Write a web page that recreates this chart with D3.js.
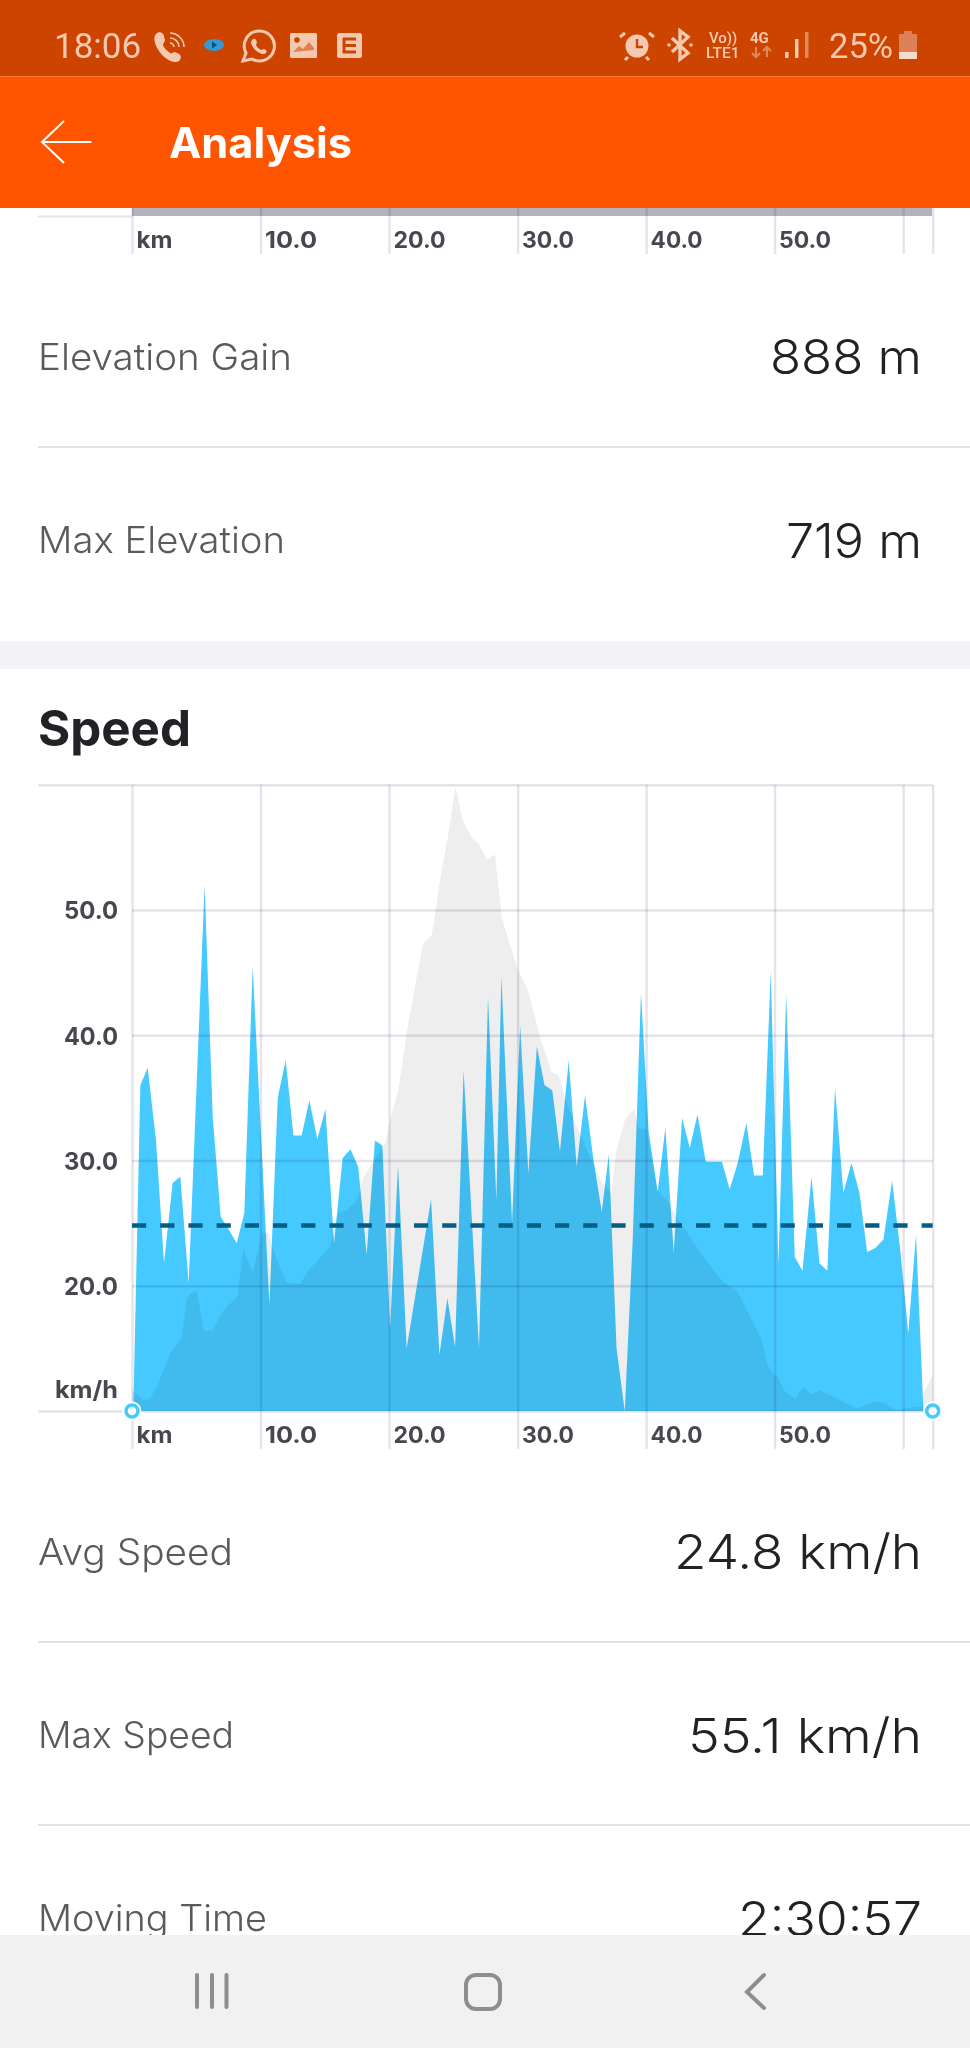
<!DOCTYPE html>
<html>
<head>
<meta charset="utf-8">
<script src="https://cdn.jsdelivr.net/npm/d3@7"></script>
<style>
  html, body { margin: 0; padding: 0; background: #fff; }
  svg { display: block; }
  text { font-family: Inter, sans-serif; }
</style>
</head>
<body>
<div id="chart"></div>
<script>
// speed series
var speedKm = [0.1, 0.65, 1.22, 1.87, 2.49, 3.16, 3.76, 4.41, 5.65, 6.28, 6.9, 7.4, 8.15, 8.74, 9.39, 10.69,
  11.34, 11.96, 12.56, 13.2, 13.8, 14.42, 15.05, 15.72, 16.39, 17.0, 17.6, 18.26, 18.9, 19.48, 20.08, 20.7,
  21.37, 23.27, 23.92, 24.54, 25.14, 25.8, 27.0, 27.7, 28.35, 28.74, 29.57, 30.2, 30.84, 31.5, 32.1, 32.7,
  33.3, 33.98, 34.6, 35.25, 35.9, 36.55, 37.1, 37.7, 38.34, 38.96, 39.6, 40.2, 40.9, 41.5, 42.15, 42.8,
  43.4, 44.0, 44.64, 45.9, 46.5, 47.13, 47.8, 48.4, 49.08, 49.7, 50.3, 50.9, 51.57, 52.17, 52.87, 53.49,
  54.1, 54.7, 55.35, 55.98, 56.6, 57.2, 57.8, 58.47, 59.14, 59.77, 60.4, 61.0, 61.58];
var speedVal = [10, 36.0, 37.4, 31.6, 21.8, 28.2, 28.7, 20.2, 52.0, 33.5, 25.5, 24.7, 23.4, 25.8, 45.5, 18.5,
  35.0, 38.0, 32.0, 32.0, 34.8, 31.7, 34.1, 23.4, 30.2, 30.9, 29.5, 22.5, 31.6, 31.2, 16.6, 29.6,
  15.0, 26.9, 14.5, 19.0, 15.1, 37.2, 15.0, 43.1, 26.8, 44.7, 25.0, 40.8, 29.0, 39.1, 36.0, 35.6,
  30.7, 38.0, 29.5, 35.2, 30.1, 25.9, 30.5, 15.0, 10.0, 23.7, 43.4, 32.3, 27.5, 32.6, 22.7, 33.4,
  31.0, 33.7, 29.9, 29.9, 27.7, 29.8, 33.0, 28.8, 28.8, 45.1, 21.7, 43.3, 22.3, 21.2, 28.7, 21.8,
  21.2, 35.8, 27.4, 29.8, 27.4, 22.7, 23.0, 23.7, 28.4, 22.9, 16.2, 24.1, 10];

// elevation shown behind the speed, in metres above the chart floor
var elevKm = [0, 0.88, 1.4, 2.05, 2.96, 3.87, 4.25, 4.5, 5.03, 5.6, 6.28, 6.85, 7.37, 8.2, 8.66, 9.39, 10.1, 10.6,
  11.26, 12.04, 13.07, 13.85, 15.0, 15.4, 16.05, 16.7, 17.5, 18.0, 18.5, 19.7, 20.08, 20.73, 21.37, 22.15, 22.67,
  23.32, 23.97, 24.62, 25.16, 25.73, 26.43, 26.95, 27.65, 28.25, 28.77, 29.94, 30.84, 31.75, 32.66, 33.2, 33.83,
  34.74, 35.64, 36.5, 37.3, 37.46, 37.7, 38.36, 39.07, 39.4, 40.05, 40.3, 40.9, 41.6, 42.4, 43.16, 44.46, 46.0,
  47.05, 48.1, 49.0, 49.4, 49.9, 50.17, 50.8, 51.6, 52.2, 52.9, 53.5, 54.6, 55.3, 56.4, 57.7, 58.6, 59.5, 60.8,
  61.45, 61.7, 62.3];
var elevVal = [24, 12, 14, 32, 66, 84, 128, 135, 139, 92, 93, 110, 120, 131, 187, 159, 205, 205,
  174, 148, 146, 164, 182, 189, 228, 231, 243, 268, 281, 308, 335, 369, 435, 499, 538,
  547, 611, 664, 718, 680, 659, 653, 634, 640, 567, 511, 482, 430, 390, 386, 354,
  323, 292, 265, 250, 273, 300, 335, 348, 325, 325, 300, 254, 243, 223, 206, 177, 148,
  139, 108, 82, 55, 41, 41, 22, 14, 28, 19, 24, 16, 11, 3, 11, 9, 1, 5,
  5, 24, 41];

var xTicks = [0, 10, 20, 30, 40, 50, 60, 62.3];
var yTicks = [10, 20, 30, 40, 50, 60];
var avgSpeed = 24.8;

var statNames = ["Elevation Gain", "Max Elevation", "Avg Speed", "Max Speed", "Moving Time"];
var statValues = ["888 m", "719 m", "24.8 km/h", "55.1 km/h", "2:30:57"];
var nameBase = [370, 553, 1565, 1748, 1931];
var valueBase = [374, 558, 1569, 1753, 1936];
var nameWidth = [254, 247, 195, 196, 229];
var valueWidth = [152, 136, 248, 234, 184];
var dividerY = [447, 1642, 1825];

var svg = d3.select("#chart").append("svg")
    .attr("width", 970)
    .attr("height", 2048);

svg.append("rect").attr("width", 970).attr("height", 2048).attr("fill", "#fff");

// scales
var x = d3.scaleLinear().domain([0, 62.3]).range([132, 932.7]);
var y = d3.scaleLinear().domain([10, 60]).range([1411, 784.7]);
var yElev = d3.scaleLinear().domain([0, 720]).range([1411, 785]);

var grey = "#eeeeee", blue = "#45c9ff", gridColor = "#e4e4ea", labelColor = "#47474f";

// stat rows
var rows = svg.append("g");
statNames.forEach(function(name, i) {
    rows.append("text").attr("x", 38).attr("y", nameBase[i]).attr("font-size", 37)
        .attr("font-weight", 300).attr("fill", "#5a5a5a")
        .attr("textLength", nameWidth[i]).attr("lengthAdjust", "spacingAndGlyphs").text(name);
    rows.append("text").attr("x", 922 - valueWidth[i]).attr("y", valueBase[i])
        .attr("font-size", 48).attr("font-weight", 350).attr("fill", "#222226")
        .attr("textLength", valueWidth[i]).attr("lengthAdjust", "spacingAndGlyphs").text(statValues[i]);
});
dividerY.forEach(function(d) {
    rows.append("line").attr("x1", 38).attr("x2", 970).attr("y1", d).attr("y2", d)
        .attr("stroke", "#d9d9d9").attr("stroke-width", 1.5);
});

// section gap
svg.append("rect").attr("x", 0).attr("y", 641).attr("width", 970).attr("height", 28).attr("fill", "#f3f3f7");
svg.append("text").attr("x", 38).attr("y", 746).attr("font-size", 49).attr("font-weight", 700)
    .attr("fill", "#222226").attr("textLength", 153).attr("lengthAdjust", "spacingAndGlyphs").text("Speed");

// areas
var elevPts = d3.zip(elevKm, elevVal);
var speedPts = d3.zip(speedKm, speedVal);

svg.append("path").datum(elevPts)
    .attr("fill", grey)
    .attr("d", d3.area().x(function(d) { return x(d[0]); }).y0(y(10)).y1(function(d) { return yElev(d[1]); }));

svg.append("path").datum(speedPts)
    .attr("fill", blue)
    .style("mix-blend-mode", "multiply")
    .attr("d", d3.area().x(function(d) { return x(d[0]); }).y0(y(10)).y1(function(d) { return y(d[1]); }));

// axes
function kmLabel(d) {
    if (d === 0) return "km";
    if (d >= 60) return "";
    return d3.format(".1f")(d);
}

function styleXAxis(g, down, up) {
    g.select(".domain").remove();
    g.selectAll(".tick line")
        .attr("y1", down).attr("y2", -up)
        .attr("stroke", gridColor).attr("stroke-width", 2.4)
        .style("mix-blend-mode", "multiply");
    g.selectAll(".tick text")
        .attr("text-anchor", "start").attr("x", 4).attr("y", down - 6).attr("dy", 0)
        .attr("font-family", "Inter, sans-serif").attr("font-size", 23).attr("font-weight", 700)
        .attr("fill", labelColor)
        .attr("textLength", function(d) { return d === 0 ? 36 : 52; })
        .attr("lengthAdjust", "spacingAndGlyphs");
    g.selectAll(".tick text").filter(function(d) { return d >= 60; }).remove();
}

var xAxis = d3.axisBottom(x).tickValues(xTicks).tickFormat(kmLabel);

svg.append("g").attr("transform", "translate(0," + y(10) + ")").call(xAxis)
    .call(styleXAxis, 38, 626);

var yAxis = d3.axisLeft(y).tickValues(yTicks).tickFormat(function(d) {
    if (d === 10) return "km/h";
    if (d === 60) return "";
    return d3.format(".1f")(d);
});

svg.append("g").attr("transform", "translate(132,0)").call(yAxis)
    .call(function(g) {
        g.select(".domain").remove();
        g.selectAll(".tick line")
            .attr("x1", function(d) { return (d === 10 || d === 60) ? -94 : 0; })
            .attr("x2", 800.7)
            .attr("stroke", gridColor).attr("stroke-width", 2.4)
            .style("mix-blend-mode", "multiply");
        g.selectAll(".tick text").filter(function(d) { return d === 60; }).remove();
        g.selectAll(".tick text")
            .attr("x", -14).attr("dy", function(d) { return d === 10 ? -14 : 9; })
            .attr("font-family", "Inter, sans-serif").attr("font-size", 24).attr("font-weight", 700)
            .attr("fill", labelColor)
            .attr("textLength", function(d) { return d === 10 ? 63 : 54; })
            .attr("lengthAdjust", "spacingAndGlyphs");
    });

// average line
svg.append("line")
    .attr("x1", x(0)).attr("x2", x(62.3))
    .attr("y1", y(avgSpeed)).attr("y2", y(avgSpeed))
    .attr("stroke", "#045e84").attr("stroke-width", 4.5)
    .attr("stroke-dasharray", "14.2 14");

// end handles
[0, 62.3].forEach(function(km) {
    svg.append("circle").attr("cx", x(km)).attr("cy", y(10)).attr("r", 8)
        .attr("fill", "#fff").attr("stroke", "#fff").attr("stroke-width", 3);
    svg.append("circle").attr("cx", x(km)).attr("cy", y(10)).attr("r", 6)
        .attr("fill", "#fff").attr("stroke", blue).attr("stroke-width", 3.5);
});

// strip of the elevation chart left over above
svg.append("rect").attr("x", 132).attr("y", 204).attr("width", 800).attr("height", 12).attr("fill", "#b2b3bf");
svg.append("line").attr("x1", 38).attr("x2", 132).attr("y1", 216.5).attr("y2", 216.5)
    .attr("stroke", gridColor).attr("stroke-width", 2);
svg.append("g").attr("transform", "translate(0,216)").call(xAxis)
    .call(styleXAxis, 38, 8);

// status bar
svg.append("rect").attr("width", 970).attr("height", 76.5).attr("fill", "#cc4400");
svg.append("rect").attr("y", 76.5).attr("width", 970).attr("height", 131.5).attr("fill", "#ff5500");

var statusColor = "#f5c9b0";
var statusBar = svg.append("g").attr("fill", statusColor);
statusBar.append("text").attr("x", 54).attr("y", 58).attr("font-size", 35).style("font-family", "Roboto").text("18:06");
statusBar.append("text").attr("x", 829).attr("y", 58).attr("font-size", 34.5).style("font-family", "Roboto").text("25%");
// phone with waves
statusBar.append("path").attr("d", "M156 34c3-3 7-2 8 2l1 4c0 2-2 3-2 5 1 3 4 6 7 8 2 1 3-1 5-1l4 2c3 2 2 5 0 7-3 2-8 1-12-2-6-4-10-10-12-16-1-4-1-7 1-9z");
statusBar.append("path").attr("d", "M170 33c7 0 14 6 14 14M170 38c5 0 9 4 9 9M170 43c2 0 4 2 4 4")
    .attr("fill", "none").attr("stroke", statusColor).attr("stroke-width", 1.6);
// small eye
statusBar.append("ellipse").attr("cx", 214).attr("cy", 45).attr("rx", 10).attr("ry", 6).attr("fill", "#2f9bd2");
statusBar.append("path").attr("d", "M212 41.5l5 3.5-5 3.5z").attr("fill", "#0d4a7a");
// whatsapp
statusBar.append("path").attr("d", "M259 31a15 15 0 1 1-7 28l-9 2 3-8a15 15 0 0 1 13-22z")
    .attr("fill", "none").attr("stroke", statusColor).attr("stroke-width", 3);
statusBar.append("path").attr("d", "M253 39c2-1 3 0 4 3 0 1-1 2-1 3 1 2 3 4 5 5 1 0 2-1 3-1 3 1 3 3 2 4-2 2-5 1-8-1-4-2-6-6-7-9 0-2 1-3 2-4z");
// gallery
statusBar.append("rect").attr("x", 290).attr("y", 33).attr("width", 27).attr("height", 25).attr("rx", 1.5);
statusBar.append("circle").attr("cx", 297).attr("cy", 40).attr("r", 2.8).attr("fill", "#cc4400");
statusBar.append("path").attr("d", "M293 52l6-6 4 3 6-7 5 6v2z").attr("fill", "#cc4400").attr("opacity", 0.55);
// E box
statusBar.append("rect").attr("x", 337).attr("y", 33).attr("width", 25).attr("height", 25).attr("rx", 2.5);
statusBar.append("path").attr("d", "M343 39h13M343 45.5h13M343 52h13").attr("stroke", "#cc4400").attr("stroke-width", 3).attr("fill", "none");
statusBar.append("path").attr("d", "M344 38v15").attr("stroke", "#cc4400").attr("stroke-width", 3);
// alarm
statusBar.append("circle").attr("cx", 637).attr("cy", 46).attr("r", 11.5);
statusBar.append("path").attr("d", "M637 39v8h6").attr("fill", "none").attr("stroke", "#cc4400").attr("stroke-width", 2.4);
statusBar.append("path").attr("d", "M625 33l-5 4M649 33l5 4M628 57l-3 3M646 57l3 3").attr("fill", "none").attr("stroke", statusColor).attr("stroke-width", 3);
// bluetooth
statusBar.append("path").attr("d", "M672 38l16 15-8 6V31l8 6-16 15").attr("fill", "none").attr("stroke", statusColor).attr("stroke-width", 3.4);
statusBar.append("circle").attr("cx", 669).attr("cy", 45).attr("r", 1.8);
statusBar.append("circle").attr("cx", 691).attr("cy", 45).attr("r", 1.8);
// network text
statusBar.append("text").attr("x", 709).attr("y", 43).attr("font-size", 15).attr("font-weight", 500).style("font-family", "Roboto").text("Vo))");
statusBar.append("text").attr("x", 706).attr("y", 58).attr("font-size", 15.5).attr("font-weight", 500).style("font-family", "Roboto").text("LTE1");
statusBar.append("text").attr("x", 750).attr("y", 43).attr("font-size", 15).attr("font-weight", 700).style("font-family", "Roboto").text("4G");
statusBar.append("path").attr("d", "M756 47v10M752 53l4 4 4-4M767 57V47M763 51l4-4 4 4").attr("fill", "none").attr("stroke", "#e08a5c").attr("stroke-width", 2);
// signal
statusBar.append("rect").attr("x", 785).attr("y", 52).attr("width", 3.5).attr("height", 6);
statusBar.append("rect").attr("x", 795).attr("y", 39).attr("width", 3.5).attr("height", 19);
statusBar.append("rect").attr("x", 805).attr("y", 32).attr("width", 3.5).attr("height", 26).attr("fill", "#e08a5c");
// battery
statusBar.append("path").attr("d", "M904 31h8v3h5v25h-18V34h5z").attr("fill", "#dd8055");
statusBar.append("rect").attr("x", 899).attr("y", 52).attr("width", 18).attr("height", 7).attr("fill", "#f8dccb");

// app bar
svg.append("path").attr("d", "M91.5 142H42M64 121L42 142L64 163")
    .attr("fill", "none").attr("stroke", "#fff").attr("stroke-width", 2);
svg.append("text").attr("x", 169).attr("y", 158).attr("font-size", 42).attr("font-weight", 700)
    .attr("fill", "#fff").attr("textLength", 183).attr("lengthAdjust", "spacingAndGlyphs").text("Analysis");

// navigation bar
svg.append("rect").attr("y", 1935).attr("width", 970).attr("height", 113).attr("fill", "#f1f1f1");
var nav = svg.append("g").attr("fill", "none").attr("stroke", "#8e8e8e");
[197, 212, 226.5].forEach(function(bx) {
    nav.append("line").attr("x1", bx).attr("x2", bx).attr("y1", 1975).attr("y2", 2007)
        .attr("stroke-width", 4).attr("stroke-linecap", "round");
});
nav.append("rect").attr("x", 466).attr("y", 1975).attr("width", 34).attr("height", 34).attr("rx", 10).attr("stroke-width", 4);
nav.append("path").attr("d", "M764 1975L747 1992L764 2008").attr("stroke-width", 4).attr("stroke-linecap", "round");
</script>
</body>
</html>
